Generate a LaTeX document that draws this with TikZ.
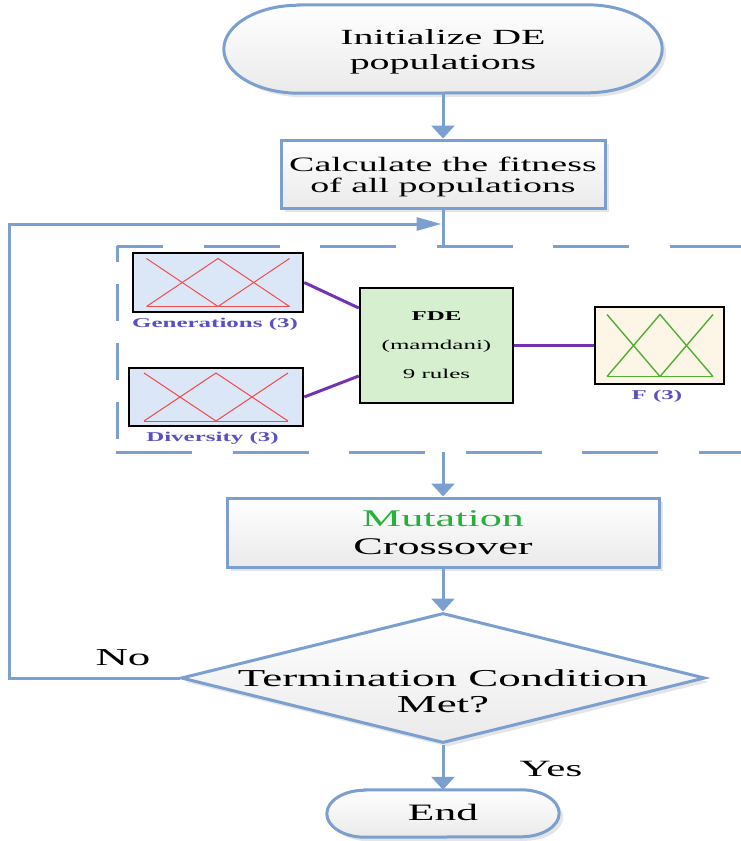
\documentclass[tikz,border=0pt]{standalone}
\usepackage{fontspec}
\setmainfont{Liberation Serif}[FakeStretch=1.85]
\usetikzlibrary{arrows.meta,shapes.geometric,shadows,backgrounds}

\definecolor{flowblue}{HTML}{7BA0CF}
\definecolor{boxgray}{RGB}{234,234,234}
\definecolor{mfblue}{RGB}{219,230,246}
\definecolor{fdegreen}{RGB}{214,239,207}
\definecolor{outcream}{RGB}{253,246,230}
\definecolor{mfred}{RGB}{238,78,78}
\definecolor{mfgreen}{RGB}{80,176,52}
\definecolor{linkpurple}{RGB}{116,52,178}
\definecolor{labblue}{RGB}{90,80,196}
\definecolor{mutgreen}{RGB}{36,178,60}

% stadium outline around a named node: #1 node, #2 end x-radius, #3 half height
\newcommand\drawstadium[3]{%
  \path[flowline, flowfill, softshadow]
    ([xshift=#2]#1.north west) -- ([xshift=-#2]#1.north east)
    arc[start angle=90, end angle=-90, x radius=#2, y radius=#3]
    -- ([xshift=#2]#1.south west)
    arc[start angle=270, end angle=90, x radius=#2, y radius=#3] -- cycle;}

\begin{document}
\begin{tikzpicture}[x=1pt, y=1pt,
  flowline/.style={draw=flowblue, line width=3pt},
  flowfill/.style={top color=white, bottom color=boxgray},
  softshadow/.style={drop shadow={shadow xshift=4pt, shadow yshift=-4pt, fill=black, opacity=0.10}},
  procbox/.style={flowline, flowfill, softshadow, rectangle, inner sep=0pt},
  holder/.style={rectangle, inner sep=0pt},
  txt/.style={inner sep=0pt, align=center},
  varrow/.style={flowline, -{Triangle[length=13pt,width=23pt]}},
  harrow/.style={flowline, -{Triangle[length=25pt,width=13pt]}},
  mfbox/.style={draw=black, line width=2.5pt, rectangle, inner sep=0pt},
  mflab/.style={inner sep=0pt, text=labblue, font=\fontsize{13.5}{15}\selectfont\bfseries},
  link/.style={draw=linkpurple, line width=3pt},
  hdash/.style={flowline, dash pattern=on 76pt off 40.5pt},
  vdash/.style={flowline, dash pattern=on 37pt off 22pt},
  pics/mfset/.style={code={
    \draw (-1,1) -- (0,-1);
    \draw (-1,-1) -- (0,1) -- (1,-1);
    \draw (0,-1) -- (1,1);
    \draw (-1,-1) -- (1,-1);
  }}
]
\useasboundingbox (0,0) rectangle (741,-841);

% ---- flowchart nodes ----
\node[holder, minimum width=438pt, minimum height=88pt] (init) at (443,-49) {};
\node[txt, font=\fontsize{21.6}{25}\selectfont] (inittext) at (443,-52) {Initialize DE\\populations};

\node[procbox, minimum width=324pt, minimum height=68pt] (calc) at (443,-174) {};
\node[txt, font=\fontsize{20.5}{20.5}\selectfont] (calctext) at (443,-177) {Calculate the fitness\\of all populations};

\node[procbox, minimum width=432pt, minimum height=69pt] (mut) at (443,-532.5) {};
\node[txt, font=\fontsize{23.9}{28}\selectfont] (muttext) at (443,-533) {\textcolor{mutgreen}{Mutation}\\Crossover};

\node[diamond, flowline, flowfill, softshadow, inner sep=0pt, minimum width=524pt, minimum height=130pt] (dec) at (443,-678) {};
\node[txt, font=\fontsize{24.3}{26}\selectfont] (dectext) at (443,-691) {Termination Condition\\Met?};

\node[holder, minimum width=232pt, minimum height=47pt] (endn) at (443,-813.5) {};
\node[txt, font=\fontsize{23.5}{25}\selectfont] (endtext) at (443,-812) {End};

\begin{scope}[on background layer]
  \drawstadium{init}{75pt}{44pt}
  \drawstadium{endn}{38pt}{23.5pt}
\end{scope}

\node[txt, font=\fontsize{24.3}{26}\selectfont] (nolab) at (123,-658) {No};
\node[txt, font=\fontsize{23.3}{25}\selectfont] (yeslab) at (551,-769) {Yes};

% ---- fuzzy inference block ----
\coordinate (fzTop) at (443,-246);
\coordinate (fzBot) at (443,-452);
\draw[hdash, dash phase=30pt] (117,-246) -- (741,-246);
\draw[hdash] (116,-452) -- (741,-452);
\draw[vdash, dash phase=21pt] (117,-246) -- (117,-452);

\node[mfbox, fill=mfblue, minimum width=170pt, minimum height=59pt] (gen) at (218,-282.5) {};
\node[mfbox, fill=mfblue, minimum width=174pt, minimum height=58pt] (div) at (216,-397) {};
\node[mfbox, fill=fdegreen, minimum width=153pt, minimum height=115pt, align=center,
      font=\fontsize{13.5}{15}\selectfont] (fde) at (436.5,-345.5)
      {\textbf{FDE}\\[14pt](mamdani)\\[14pt]9 rules};
\node[mfbox, fill=outcream, minimum width=129pt, minimum height=77pt] (fout) at (659.5,-345.5) {};

\pic[draw=mfred, line width=1pt, xscale=71.5, yscale=24] at (gen.center) {mfset};
\pic[draw=mfred, line width=1pt, xscale=72, yscale=24] at (div.center) {mfset};
\pic[draw=mfgreen, line width=1.4pt, xscale=53, yscale=31] at ([xshift=0.5pt]fout.center) {mfset};

\node[mflab] (genlab) at (215,-324) {Generations (3)};
\node[mflab] (divlab) at (212.5,-438) {Diversity (3)};
\node[mflab] (foutlab) at (657,-396) {F (3)};

\draw[link] (gen.east) -- ([yshift=37.5pt]fde.west);
\draw[link] (div.east) -- ([yshift=-30.5pt]fde.west);
\draw[link] (fde.east) -- (fout.west);

% ---- connectors ----
\draw[varrow] (init.south) -- (calc.north);
\draw[flowline] (calc.south) -- (fzTop);
\draw[varrow] (fzBot) -- (mut.north);
\draw[varrow] (mut.south) -- (dec.north);
\draw[varrow] (dec.south) -- (endn.north);

\coordinate (loopLeft) at (9,-224);
\coordinate (loopIn) at (441.5,-224);
\draw[harrow] (dec.west) -| (loopLeft) -- (loopIn);
\end{tikzpicture}
\end{document}
